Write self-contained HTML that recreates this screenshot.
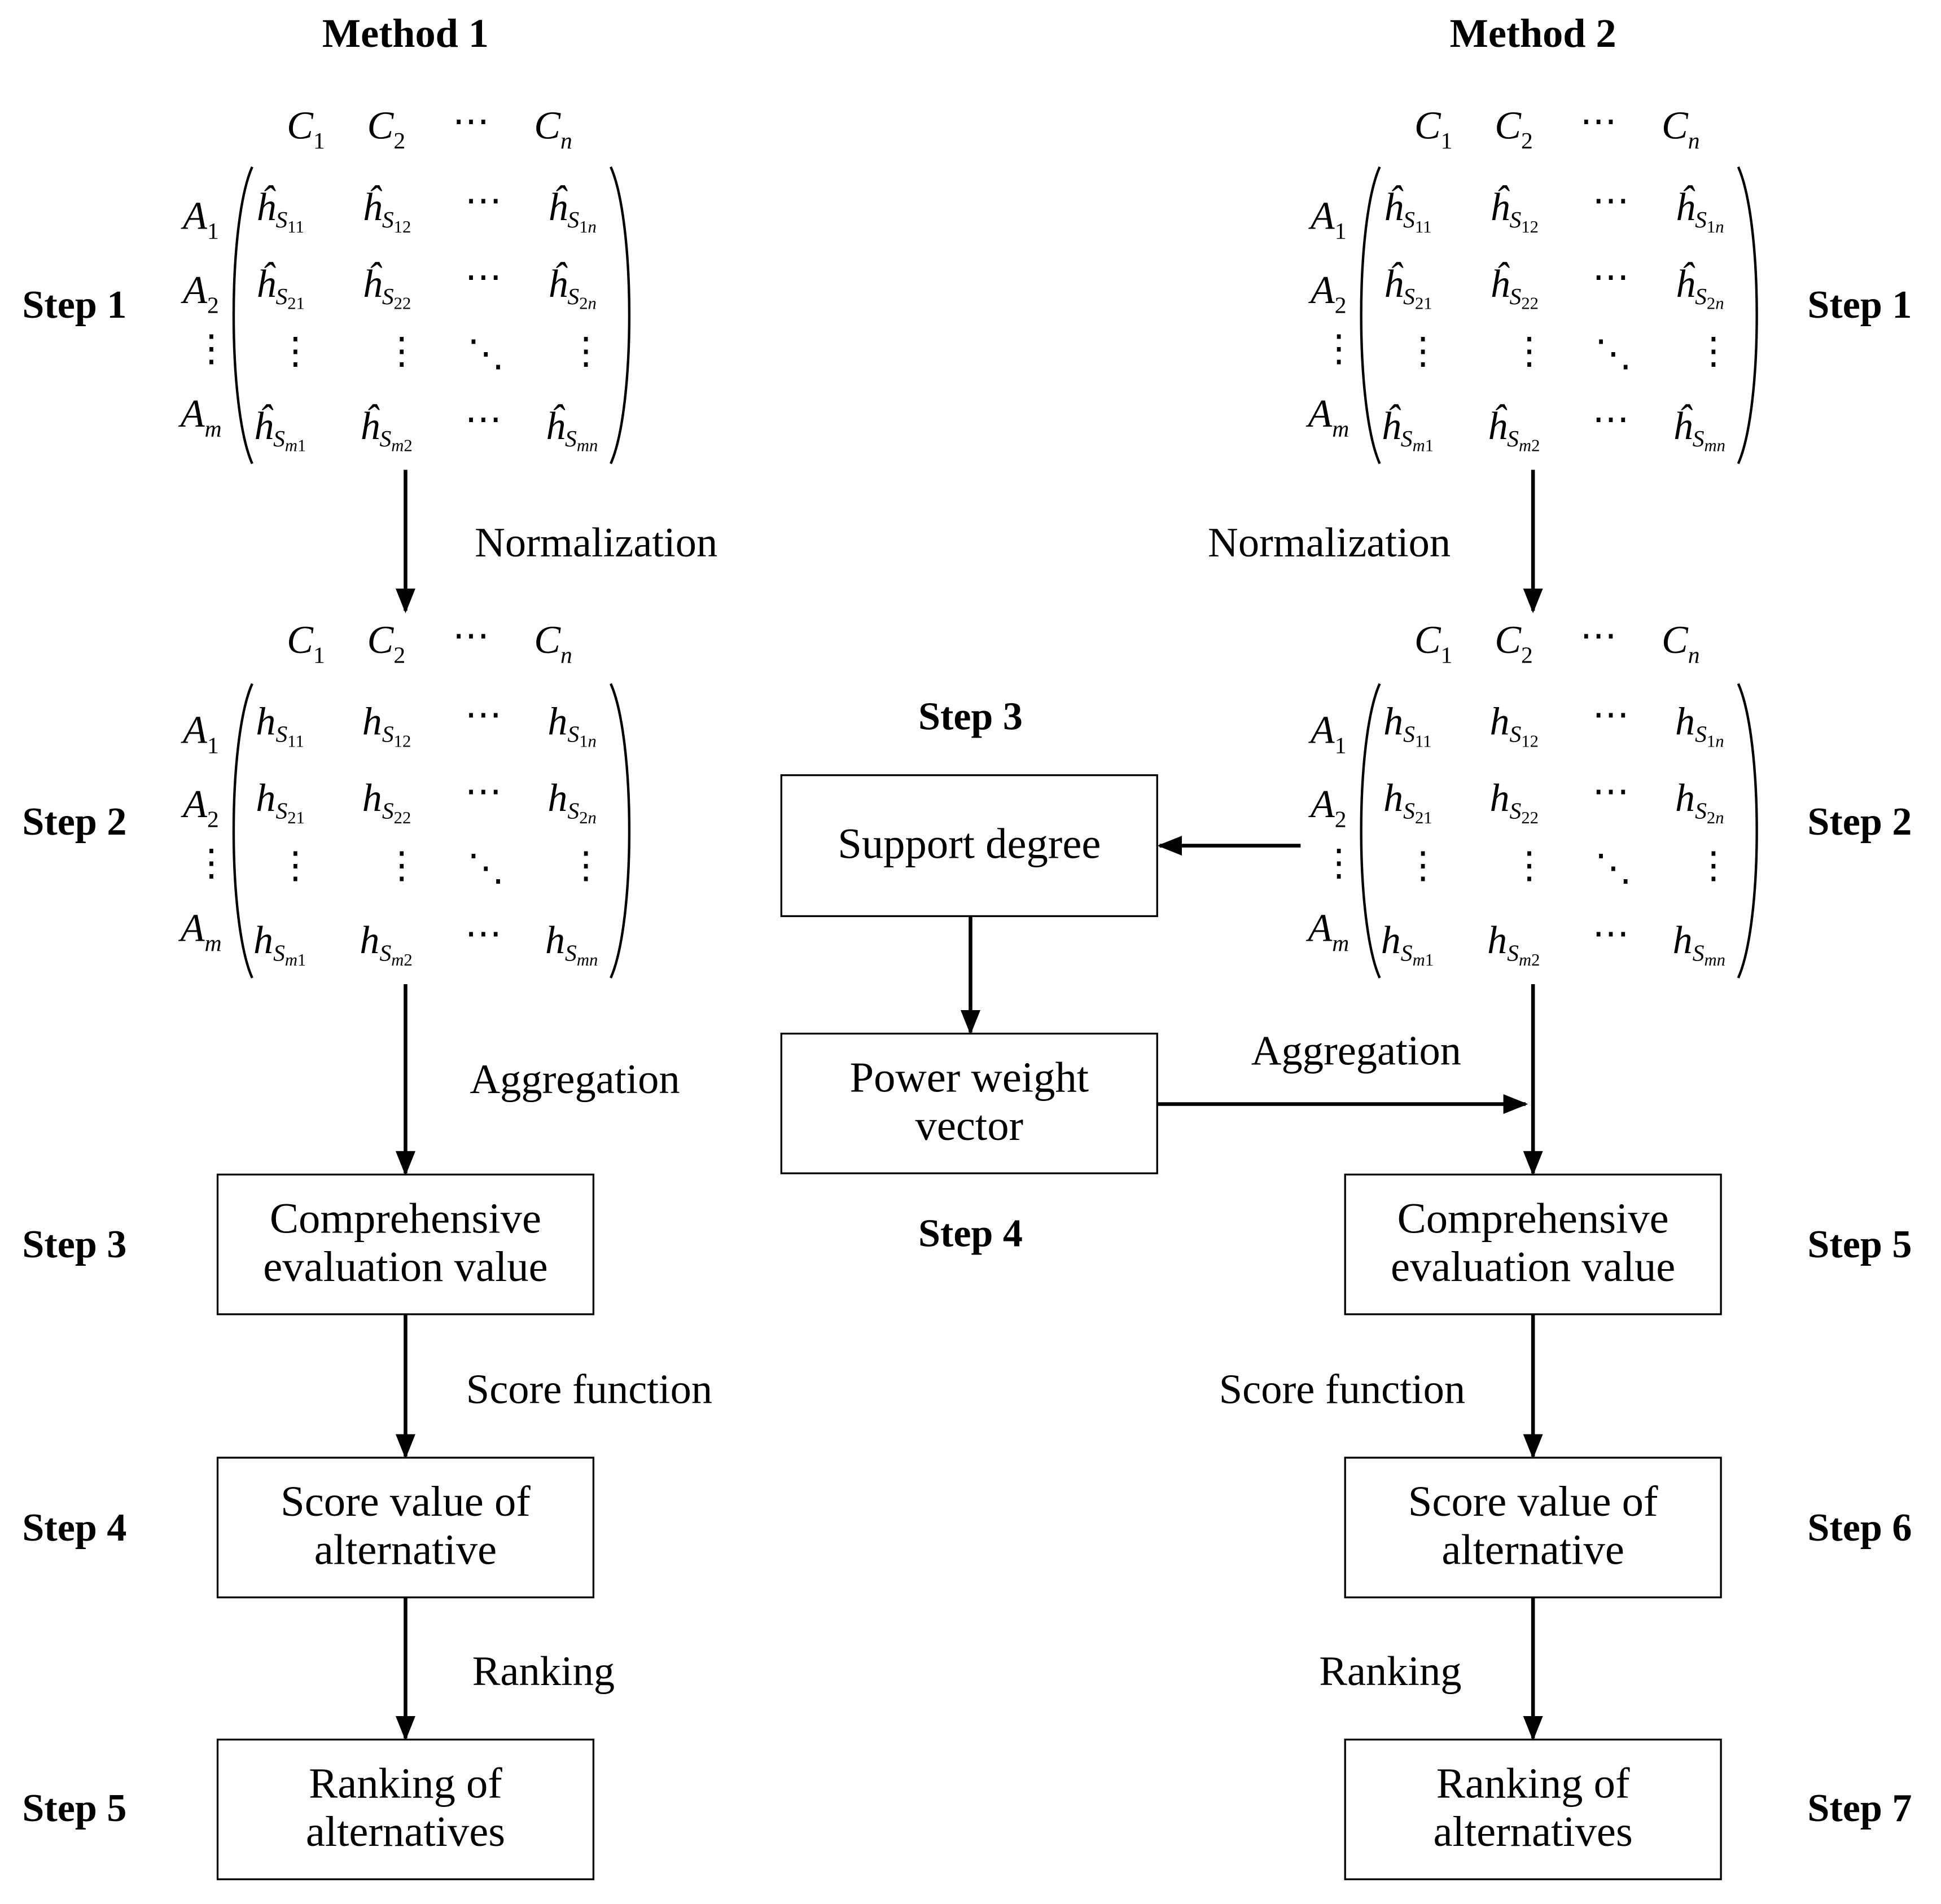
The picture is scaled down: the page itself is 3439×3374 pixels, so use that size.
<!DOCTYPE html>
<html><head><meta charset="utf-8"><style>
html,body{margin:0;padding:0;background:#fff}
svg{display:block}
text{font-family:"Liberation Serif",serif;fill:#000}
.b{font-weight:bold;font-size:32px}
.t{font-weight:bold;font-size:33px}
.l{font-size:34px}
.bx{font-size:35px}
.m{font-size:32px;font-style:italic}
.s{font-size:19px;font-style:italic}
.u{font-size:19px;font-style:normal}
.ss{font-size:14px;font-style:normal}
.ssi{font-size:14px;font-style:italic}
.d{font-size:30px;font-style:normal}
</style></head><body>
<svg width="3439" height="3374" viewBox="0 0 1570 1540" preserveAspectRatio="none" xmlns="http://www.w3.org/2000/svg">
<defs><marker id="a" markerWidth="20" markerHeight="20" refX="18" refY="8" orient="auto" markerUnits="userSpaceOnUse"><path d="M0,0 L20,8 L0,16 z" fill="#000"/></marker></defs>

<text class="t" x="328" y="38" text-anchor="middle">Method 1</text>
<text class="t" x="1240" y="38" text-anchor="middle">Method 2</text>

<text class="b" x="18" y="257">Step 1</text>
<text class="b" x="18" y="675">Step 2</text>
<text class="b" x="18" y="1017">Step 3</text>
<text class="b" x="18" y="1246">Step 4</text>
<text class="b" x="18" y="1473">Step 5</text>
<text class="b" x="1462" y="257">Step 1</text>
<text class="b" x="1462" y="675">Step 2</text>
<text class="b" x="1462" y="1017">Step 5</text>
<text class="b" x="1462" y="1246">Step 6</text>
<text class="b" x="1462" y="1473">Step 7</text>
<text class="b" x="785" y="590" text-anchor="middle">Step 3</text>
<text class="b" x="785" y="1008" text-anchor="middle">Step 4</text>

<g>
<text class="m" x="232" y="112">C<tspan class="u" dy="8">1</tspan></text>
<text class="m" x="297" y="112">C<tspan class="u" dy="8">2</tspan></text>
<text class="d" x="366" y="108">⋯</text>
<text class="m" x="432" y="112">C<tspan class="s" dy="8">n</tspan></text>
<text class="m" x="148" y="185">A<tspan class="u" dy="8">1</tspan></text>
<text class="m" x="148" y="245">A<tspan class="u" dy="8">2</tspan></text>
<text class="d" x="156" y="292">⋮</text>
<text class="m" x="146" y="345">A<tspan class="s" dy="8">m</tspan></text>
<path d="M204,135 C184,180 184,330 204,375" fill="none" stroke="#000" stroke-width="2"/>
<path d="M494,135 C514,180 514,330 494,375" fill="none" stroke="#000" stroke-width="2"/>
<text class="m" x="207" y="178">ĥ<tspan class="s" dy="6">S</tspan><tspan class="ss" dy="4">11</tspan></text>
<text class="m" x="293" y="178">ĥ<tspan class="s" dy="6">S</tspan><tspan class="ss" dy="4">12</tspan></text>
<text class="d" x="376" y="172">⋯</text>
<text class="m" x="443" y="178">ĥ<tspan class="s" dy="6">S</tspan><tspan class="ss" dy="4">1</tspan><tspan class="ssi">n</tspan></text>
<text class="m" x="207" y="240">ĥ<tspan class="s" dy="6">S</tspan><tspan class="ss" dy="4">21</tspan></text>
<text class="m" x="293" y="240">ĥ<tspan class="s" dy="6">S</tspan><tspan class="ss" dy="4">22</tspan></text>
<text class="d" x="376" y="234">⋯</text>
<text class="m" x="443" y="240">ĥ<tspan class="s" dy="6">S</tspan><tspan class="ss" dy="4">2</tspan><tspan class="ssi">n</tspan></text>
<text class="d" x="224" y="294">⋮</text>
<text class="d" x="310" y="294">⋮</text>
<text class="d" x="378" y="296">⋱</text>
<text class="d" x="459" y="294">⋮</text>
<text class="m" x="205" y="355">ĥ<tspan class="s" dy="6">S</tspan><tspan class="ssi" dy="4">m</tspan><tspan class="ss">1</tspan></text>
<text class="m" x="291" y="355">ĥ<tspan class="s" dy="6">S</tspan><tspan class="ssi" dy="4">m</tspan><tspan class="ss">2</tspan></text>
<text class="d" x="376" y="349">⋯</text>
<text class="m" x="441" y="355">ĥ<tspan class="s" dy="6">S</tspan><tspan class="ssi" dy="4">mn</tspan></text>
</g>
<g transform="translate(912,0)">
<text class="m" x="232" y="112">C<tspan class="u" dy="8">1</tspan></text>
<text class="m" x="297" y="112">C<tspan class="u" dy="8">2</tspan></text>
<text class="d" x="366" y="108">⋯</text>
<text class="m" x="432" y="112">C<tspan class="s" dy="8">n</tspan></text>
<text class="m" x="148" y="185">A<tspan class="u" dy="8">1</tspan></text>
<text class="m" x="148" y="245">A<tspan class="u" dy="8">2</tspan></text>
<text class="d" x="156" y="292">⋮</text>
<text class="m" x="146" y="345">A<tspan class="s" dy="8">m</tspan></text>
<path d="M204,135 C184,180 184,330 204,375" fill="none" stroke="#000" stroke-width="2"/>
<path d="M494,135 C514,180 514,330 494,375" fill="none" stroke="#000" stroke-width="2"/>
<text class="m" x="207" y="178">ĥ<tspan class="s" dy="6">S</tspan><tspan class="ss" dy="4">11</tspan></text>
<text class="m" x="293" y="178">ĥ<tspan class="s" dy="6">S</tspan><tspan class="ss" dy="4">12</tspan></text>
<text class="d" x="376" y="172">⋯</text>
<text class="m" x="443" y="178">ĥ<tspan class="s" dy="6">S</tspan><tspan class="ss" dy="4">1</tspan><tspan class="ssi">n</tspan></text>
<text class="m" x="207" y="240">ĥ<tspan class="s" dy="6">S</tspan><tspan class="ss" dy="4">21</tspan></text>
<text class="m" x="293" y="240">ĥ<tspan class="s" dy="6">S</tspan><tspan class="ss" dy="4">22</tspan></text>
<text class="d" x="376" y="234">⋯</text>
<text class="m" x="443" y="240">ĥ<tspan class="s" dy="6">S</tspan><tspan class="ss" dy="4">2</tspan><tspan class="ssi">n</tspan></text>
<text class="d" x="224" y="294">⋮</text>
<text class="d" x="310" y="294">⋮</text>
<text class="d" x="378" y="296">⋱</text>
<text class="d" x="459" y="294">⋮</text>
<text class="m" x="205" y="355">ĥ<tspan class="s" dy="6">S</tspan><tspan class="ssi" dy="4">m</tspan><tspan class="ss">1</tspan></text>
<text class="m" x="291" y="355">ĥ<tspan class="s" dy="6">S</tspan><tspan class="ssi" dy="4">m</tspan><tspan class="ss">2</tspan></text>
<text class="d" x="376" y="349">⋯</text>
<text class="m" x="441" y="355">ĥ<tspan class="s" dy="6">S</tspan><tspan class="ssi" dy="4">mn</tspan></text>
</g>

<g transform="translate(0,416)">
<text class="m" x="232" y="112">C<tspan class="u" dy="8">1</tspan></text>
<text class="m" x="297" y="112">C<tspan class="u" dy="8">2</tspan></text>
<text class="d" x="366" y="108">⋯</text>
<text class="m" x="432" y="112">C<tspan class="s" dy="8">n</tspan></text>
<text class="m" x="148" y="185">A<tspan class="u" dy="8">1</tspan></text>
<text class="m" x="148" y="245">A<tspan class="u" dy="8">2</tspan></text>
<text class="d" x="156" y="292">⋮</text>
<text class="m" x="146" y="345">A<tspan class="s" dy="8">m</tspan></text>
<path d="M204,137 C184,182 184,330 204,375" fill="none" stroke="#000" stroke-width="2"/>
<path d="M494,137 C514,182 514,330 494,375" fill="none" stroke="#000" stroke-width="2"/>
<text class="m" x="207" y="178">h<tspan class="s" dy="6">S</tspan><tspan class="ss" dy="4">11</tspan></text>
<text class="m" x="293" y="178">h<tspan class="s" dy="6">S</tspan><tspan class="ss" dy="4">12</tspan></text>
<text class="d" x="376" y="172">⋯</text>
<text class="m" x="443" y="178">h<tspan class="s" dy="6">S</tspan><tspan class="ss" dy="4">1</tspan><tspan class="ssi">n</tspan></text>
<text class="m" x="207" y="240">h<tspan class="s" dy="6">S</tspan><tspan class="ss" dy="4">21</tspan></text>
<text class="m" x="293" y="240">h<tspan class="s" dy="6">S</tspan><tspan class="ss" dy="4">22</tspan></text>
<text class="d" x="376" y="234">⋯</text>
<text class="m" x="443" y="240">h<tspan class="s" dy="6">S</tspan><tspan class="ss" dy="4">2</tspan><tspan class="ssi">n</tspan></text>
<text class="d" x="224" y="294">⋮</text>
<text class="d" x="310" y="294">⋮</text>
<text class="d" x="378" y="296">⋱</text>
<text class="d" x="459" y="294">⋮</text>
<text class="m" x="205" y="355">h<tspan class="s" dy="6">S</tspan><tspan class="ssi" dy="4">m</tspan><tspan class="ss">1</tspan></text>
<text class="m" x="291" y="355">h<tspan class="s" dy="6">S</tspan><tspan class="ssi" dy="4">m</tspan><tspan class="ss">2</tspan></text>
<text class="d" x="376" y="349">⋯</text>
<text class="m" x="441" y="355">h<tspan class="s" dy="6">S</tspan><tspan class="ssi" dy="4">mn</tspan></text>
</g>
<g transform="translate(912,416)">
<text class="m" x="232" y="112">C<tspan class="u" dy="8">1</tspan></text>
<text class="m" x="297" y="112">C<tspan class="u" dy="8">2</tspan></text>
<text class="d" x="366" y="108">⋯</text>
<text class="m" x="432" y="112">C<tspan class="s" dy="8">n</tspan></text>
<text class="m" x="148" y="185">A<tspan class="u" dy="8">1</tspan></text>
<text class="m" x="148" y="245">A<tspan class="u" dy="8">2</tspan></text>
<text class="d" x="156" y="292">⋮</text>
<text class="m" x="146" y="345">A<tspan class="s" dy="8">m</tspan></text>
<path d="M204,137 C184,182 184,330 204,375" fill="none" stroke="#000" stroke-width="2"/>
<path d="M494,137 C514,182 514,330 494,375" fill="none" stroke="#000" stroke-width="2"/>
<text class="m" x="207" y="178">h<tspan class="s" dy="6">S</tspan><tspan class="ss" dy="4">11</tspan></text>
<text class="m" x="293" y="178">h<tspan class="s" dy="6">S</tspan><tspan class="ss" dy="4">12</tspan></text>
<text class="d" x="376" y="172">⋯</text>
<text class="m" x="443" y="178">h<tspan class="s" dy="6">S</tspan><tspan class="ss" dy="4">1</tspan><tspan class="ssi">n</tspan></text>
<text class="m" x="207" y="240">h<tspan class="s" dy="6">S</tspan><tspan class="ss" dy="4">21</tspan></text>
<text class="m" x="293" y="240">h<tspan class="s" dy="6">S</tspan><tspan class="ss" dy="4">22</tspan></text>
<text class="d" x="376" y="234">⋯</text>
<text class="m" x="443" y="240">h<tspan class="s" dy="6">S</tspan><tspan class="ss" dy="4">2</tspan><tspan class="ssi">n</tspan></text>
<text class="d" x="224" y="294">⋮</text>
<text class="d" x="310" y="294">⋮</text>
<text class="d" x="378" y="296">⋱</text>
<text class="d" x="459" y="294">⋮</text>
<text class="m" x="205" y="355">h<tspan class="s" dy="6">S</tspan><tspan class="ssi" dy="4">m</tspan><tspan class="ss">1</tspan></text>
<text class="m" x="291" y="355">h<tspan class="s" dy="6">S</tspan><tspan class="ssi" dy="4">m</tspan><tspan class="ss">2</tspan></text>
<text class="d" x="376" y="349">⋯</text>
<text class="m" x="441" y="355">h<tspan class="s" dy="6">S</tspan><tspan class="ssi" dy="4">mn</tspan></text>
</g>

<g fill="none" stroke="#000" stroke-width="1.5">
<rect x="176" y="950" width="304" height="113"/>
<rect x="176" y="1179" width="304" height="113"/>
<rect x="176" y="1407" width="304" height="113"/>
<rect x="1088" y="950" width="304" height="113"/>
<rect x="1088" y="1179" width="304" height="113"/>
<rect x="1088" y="1407" width="304" height="113"/>
<rect x="632" y="627" width="304" height="114"/>
<rect x="632" y="836" width="304" height="113"/>
</g>
<text class="bx" x="328" y="997" text-anchor="middle">Comprehensive</text>
<text class="bx" x="328" y="1036" text-anchor="middle">evaluation value</text>
<text class="bx" x="328" y="1226" text-anchor="middle">Score value of</text>
<text class="bx" x="328" y="1265" text-anchor="middle">alternative</text>
<text class="bx" x="328" y="1454" text-anchor="middle">Ranking of</text>
<text class="bx" x="328" y="1493" text-anchor="middle">alternatives</text>
<text class="bx" x="1240" y="997" text-anchor="middle">Comprehensive</text>
<text class="bx" x="1240" y="1036" text-anchor="middle">evaluation value</text>
<text class="bx" x="1240" y="1226" text-anchor="middle">Score value of</text>
<text class="bx" x="1240" y="1265" text-anchor="middle">alternative</text>
<text class="bx" x="1240" y="1454" text-anchor="middle">Ranking of</text>
<text class="bx" x="1240" y="1493" text-anchor="middle">alternatives</text>
<text class="bx" x="784" y="694" text-anchor="middle">Support degree</text>
<text class="bx" x="784" y="883" text-anchor="middle">Power weight</text>
<text class="bx" x="784" y="922" text-anchor="middle">vector</text>

<g stroke="#000" stroke-width="3" fill="none" marker-end="url(#a)">
<line x1="328" y1="380" x2="328" y2="494"/>
<line x1="328" y1="796" x2="328" y2="949"/>
<line x1="328" y1="1063" x2="328" y2="1178"/>
<line x1="328" y1="1292" x2="328" y2="1406"/>
<line x1="1240" y1="380" x2="1240" y2="494"/>
<line x1="1240" y1="796" x2="1240" y2="949"/>
<line x1="1240" y1="1063" x2="1240" y2="1178"/>
<line x1="1240" y1="1292" x2="1240" y2="1406"/>
<line x1="1052" y1="684" x2="938" y2="684"/>
<line x1="785" y1="741" x2="785" y2="835"/>
<line x1="936" y1="893" x2="1234" y2="893"/>
</g>

<text class="l" x="384" y="450">Normalization</text>
<text class="l" x="380" y="884">Aggregation</text>
<text class="l" x="377" y="1135">Score function</text>
<text class="l" x="382" y="1363">Ranking</text>
<text class="l" x="977" y="450">Normalization</text>
<text class="l" x="1012" y="861">Aggregation</text>
<text class="l" x="986" y="1135">Score function</text>
<text class="l" x="1067" y="1363">Ranking</text>
</svg>
</body></html>
